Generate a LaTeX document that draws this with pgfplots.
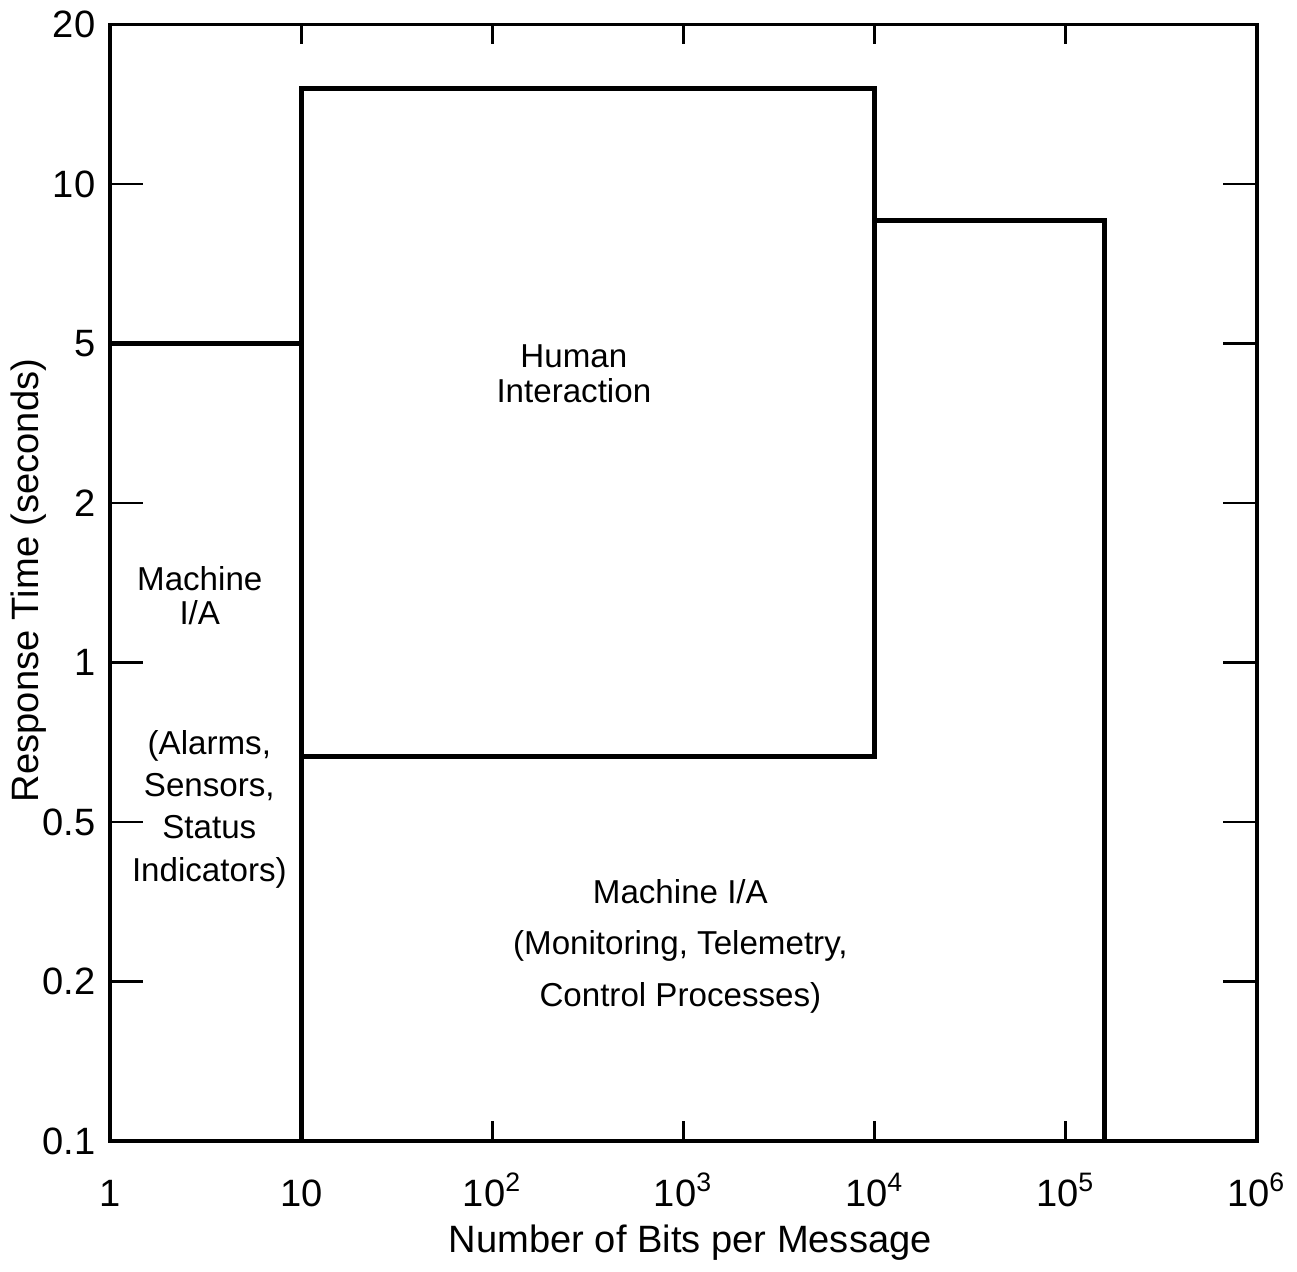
\documentclass[border=0pt]{standalone}
\usepackage{fontspec}
\setmainfont{Liberation Sans}
\usepackage{pgfplots}
\pgfplotsset{compat=1.18}
\begin{document}
\begin{tikzpicture}
\begin{axis}[
  scale only axis, width=346pt, height=337pt,
  xmode=log, xmin=1, xmax=1000000, ymin=0, ymax=7,
  xtick={1,10,100,1000,10000,100000,1000000},
  xticklabels={1,10,10\textsuperscript{2},10\textsuperscript{3},10\textsuperscript{4},10\textsuperscript{5},10\textsuperscript{6}},
  xminorticks=false, yminorticks=false,
  ytick={0,1,2,3,4,5,6,7},
  yticklabels={0.1,0.2,0.5,1,2,5,10,20},
  tick align=inside, tick pos=both,
  axis line style={line width=1.2pt},
  major tick style={line width=0.8pt, black},
  xtick style={/pgfplots/major tick length=6pt},
  ytick style={/pgfplots/major tick length=10pt},
  xticklabel style={font=\fontsize{11.5}{13}\selectfont, text height=2.3ex, anchor=north, yshift=-4pt},
  yticklabel style={font=\fontsize{11.5}{13}\selectfont, xshift=-1pt},
  xlabel={Number of Bits per Message},
  ylabel={Response Time (seconds)},
  label style={font=\fontsize{11.5}{13}\selectfont},
  xlabel style={at={(axis description cs:0.506,-0.091)}, anchor=center},
  ylabel style={at={(axis description cs:-0.0711,0.502)}, anchor=center},
  clip=false,
]
% left machine region top edge
\addplot[black, line width=1.5pt] coordinates {(1,5) (10,5)};
% human interaction box (including vertical line to bottom at x=10)
\addplot[black, line width=1.5pt] coordinates {(10,0) (10,6.60) (10000,6.60) (10000,2.41) (10,2.41)};
% machine monitoring region
\addplot[black, line width=1.5pt] coordinates {(10000,5.77) (160000,5.77) (160000,0)};

\node[align=center, font=\fontsize{10}{10.8}\selectfont] at (axis cs:267,4.81) {Human\\Interaction};
\node[align=center, font=\fontsize{10}{10.3}\selectfont] at (axis cs:2.94,3.42) {Machine\\I/A};
\node[align=center, font=\fontsize{10}{12.8}\selectfont] at (axis cs:3.3,2.08) {(Alarms,\\Sensors,\\Status\\Indicators)};
\node[align=center, font=\fontsize{10}{15.6}\selectfont] at (axis cs:964,1.22) {Machine I/A\\(Monitoring, Telemetry,\\Control Processes)};

\path (axis description cs:-0.0928,-0.110) (axis description cs:1.032,1.0178);
\end{axis}
\end{tikzpicture}
\end{document}
